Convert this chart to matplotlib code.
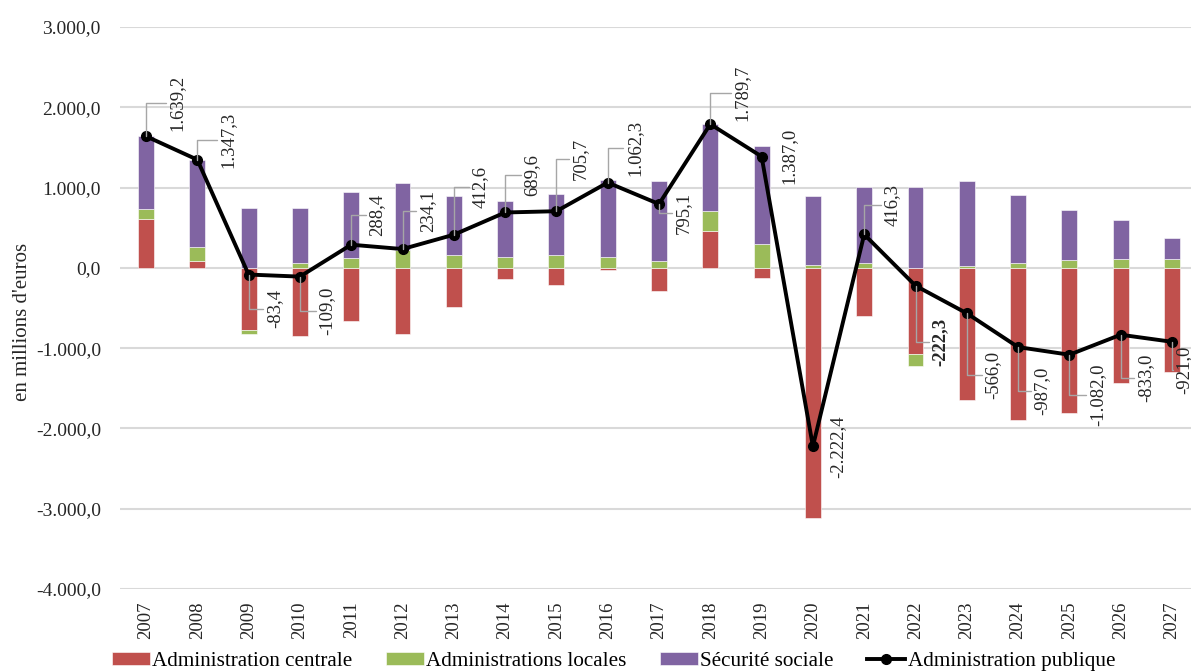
import matplotlib.pyplot as plt
import numpy as np

annees = [str(a) for a in range(2007, 2028)]

# valeurs (millions d'euros)
admin_centrale = [607, 83, -780, -849, -662, -826, -483, -140, -215, -30, -285,
                  455, -132, -3113.4, -595, -1079, -1645, -1900, -1806, -1434, -1293]
admin_locales = [129, 173, -43, 62, 124, 220, 157, 136, 157, 136, 83,
                 247, 297, 37, 58, -149, 29, 58, 95, 107, 107]
securite_sociale = [903.2, 1091.3, 739.6, 678, 826.4, 840.1, 738.6, 693.6, 763.7, 956.3, 997.1,
                    1087.7, 1222, 854, 953.3, 1005.7, 1050, 855, 629, 494, 265]
admin_publique = [1639.2, 1347.3, -83.4, -109.0, 288.4, 234.1, 412.6, 689.6, 705.7, 1062.3, 795.1,
                  1789.7, 1387.0, -2222.4, 416.3, -222.3, -566.0, -987.0, -1082.0, -833.0, -921.0]

# decalage des etiquettes (pixels) et presence d'une ligne de rappel
decalages = [(31, 33), (31, 20), (26, -34), (27, -34), (26, 30), (25, 38), (26, 48),
             (27, 37), (24, 52), (27, 35), (24, -9), (32, 31), (27, 1), (25, 0),
             (28, 29), (25, -56), (26, -62), (24, -44), (28, -40), (25, -43), (12, -28)]
rappel = [True] * 21
rappel[12] = False
rappel[13] = False

def fmt(v):
    s = f"{v:,.1f}"
    return s.replace(",", "X").replace(".", ",").replace("X", ".")

plt.rcParams['font.family'] = ['Liberation Serif', 'DejaVu Serif']

fig = plt.figure(figsize=(11.91, 6.71), dpi=100)
ax = fig.add_axes([120.35 / 1191, 82 / 671, 1077.3 / 1191, 562 / 671])

x = np.arange(len(annees))
w = 0.31
c_rouge = '#C0504D'
c_vert = '#9BBB59'
c_violet = '#8064A2'

centrale = np.array(admin_centrale, dtype=float)
locales = np.array(admin_locales, dtype=float)
secu = np.array(securite_sociale, dtype=float)

# empilement separe pour le positif et le negatif
pos = np.zeros(len(x))
neg = np.zeros(len(x))
poignees = []
for vals, col, lab in [(centrale, c_rouge, 'Administration centrale'),
                       (locales, c_vert, 'Administrations locales'),
                       (secu, c_violet, 'Sécurité sociale')]:
    base = np.where(vals >= 0, pos, neg)
    b = ax.bar(x, vals, w, bottom=base, color=col, label=lab, zorder=2,
               edgecolor='white', linewidth=0.4)
    poignees.append(b)
    pos = pos + np.where(vals >= 0, vals, 0)
    neg = neg + np.where(vals < 0, vals, 0)

ligne, = ax.plot(x, admin_publique, color='black', lw=2.8, marker='o', markersize=7,
                 label='Administration publique', zorder=4)
poignees.append(ligne)

for i, v in enumerate(admin_publique):
    dx, dy = decalages[i]
    props = None
    if rappel[i]:
        props = dict(arrowstyle='-', color='#a6a6a6', lw=1,
                     connectionstyle='angle,angleA=180,angleB=90,rad=0',
                     shrinkA=0, shrinkB=0)
    ax.annotate(fmt(v), xy=(x[i], v), xytext=(dx, dy), textcoords='offset pixels',
                rotation=90, ha='center', va='center', fontsize=13.5,
                color='#262626', fontweight='bold' if i == 15 else 'normal',
                arrowprops=props, zorder=5, annotation_clip=False)

ax.set_xlim(-0.5, len(x) - 0.5)
ax.set_ylim(-4000, 3000)
ax.set_yticks(np.arange(-4000, 3001, 1000))
ax.set_yticklabels([fmt(t) for t in np.arange(-4000, 3001, 1000)], fontsize=14, color='#262626')
ax.set_xticks(x)
ax.set_xticklabels(annees, rotation=90, fontsize=13.5, color='#262626')
ax.tick_params(axis='y', length=0, pad=14)
ax.tick_params(axis='x', length=0, pad=9)
ax.grid(axis='y', color='#d9d9d9', lw=1.5, zorder=0)
ax.set_axisbelow(True)
for s in ax.spines.values():
    s.set_visible(False)
ax.set_ylabel("en millions d'euros", fontsize=15, color='#262626')
ax.yaxis.set_label_coords(-0.082, 0.475)

fig.legend(handles=poignees, loc='lower center', bbox_to_anchor=(0.515, -0.028), ncol=4,
           frameon=False, fontsize=15.2, handlelength=1.8, handleheight=0.6,
           columnspacing=1.6, handletextpad=0.1)

fig.savefig('out.png', dpi=100)
